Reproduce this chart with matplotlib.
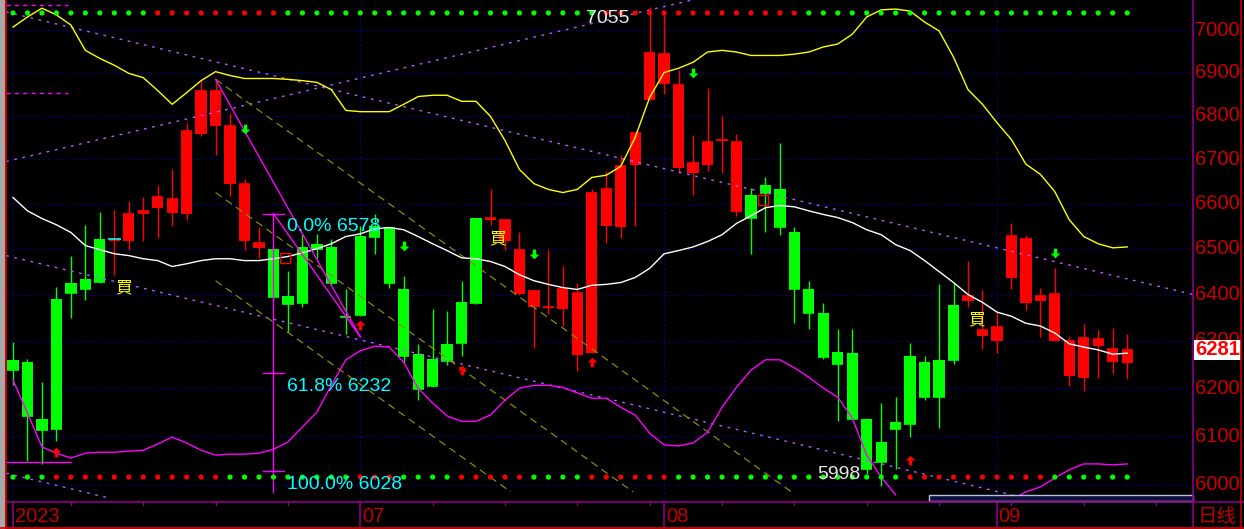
import numpy as np
import matplotlib.pyplot as plt
from matplotlib.path import Path
from matplotlib.patches import Rectangle
from matplotlib.lines import Line2D
from matplotlib.transforms import blended_transform_factory

plt.rcParams['font.family'] = ['Liberation Sans', 'DejaVu Sans']

# daily candles
opens = [6260, 6255, 6135, 6391, 6424, 6433, 6522, 6518, 6516, 6578,
         6591, 6580, 6576, 6757, 6775, 6645, 6516, 6502, 6500, 6396,
         6504, 6511, 6504, 6353, 6529, 6551, 6549, 6413, 6272, 6262,
         6294, 6383, 6569, 6564, 6518, 6402, 6372, 6370, 6368, 6270,
         6274, 6551, 6547, 6686, 6835, 6874, 6680, 6670, 6686, 6741,
         6582, 6620, 6641, 6632, 6536, 6411, 6360, 6277, 6274, 6135,
         6088, 6129, 6268, 6255, 6260, 6377, 6385, 6311, 6300, 6435,
         6381, 6387, 6300, 6226, 6221, 6289, 6255, 6253]
highs = [6298, 6262, 6213, 6417, 6485, 6553, 6582, 6587, 6607, 6614,
         6641, 6677, 6782, 6881, 6884, 6807, 6655, 6547, 6504, 6452,
         6533, 6533, 6522, 6413, 6551, 6578, 6549, 6441, 6294, 6368,
         6364, 6430, 6569, 6632, 6564, 6538, 6413, 6498, 6463, 6424,
         6632, 6673, 6709, 6759, 7055, 7040, 6905, 6755, 6865, 6798,
         6757, 6636, 6659, 6736, 6547, 6430, 6381, 6326, 6326, 6138,
         6169, 6181, 6296, 6268, 6422, 6426, 6472, 6409, 6364, 6558,
         6531, 6415, 6457, 6311, 6336, 6323, 6328, 6315]
lows = [6206, 6049, 6043, 6090, 6349, 6389, 6424, 6443, 6498, 6516,
        6524, 6551, 6564, 6752, 6709, 6618, 6498, 6480, 6387, 6319,
        6374, 6480, 6420, 6315, 6353, 6489, 6415, 6253, 6175, 6202,
        6249, 6268, 6379, 6553, 6498, 6398, 6285, 6357, 6332, 6236,
        6274, 6513, 6524, 6551, 6835, 6849, 6668, 6620, 6673, 6668,
        6573, 6489, 6536, 6531, 6338, 6326, 6262, 6131, 6133, 6022,
        5998, 6033, 6098, 6175, 6117, 6251, 6372, 6283, 6274, 6411,
        6366, 6309, 6300, 6204, 6194, 6221, 6230, 6219]
closes = [6238, 6142, 6112, 6115, 6404, 6413, 6428, 6520, 6578, 6584,
          6616, 6611, 6764, 6856, 6858, 6777, 6645, 6513, 6394, 6379,
          6381, 6500, 6424, 6351, 6355, 6527, 6424, 6268, 6198, 6204,
          6257, 6296, 6381, 6567, 6564, 6498, 6407, 6372, 6411, 6404,
          6623, 6632, 6684, 6759, 6945, 6943, 6870, 6691, 6739, 6743,
          6739, 6569, 6623, 6549, 6413, 6360, 6266, 6251, 6135, 6033,
          6047, 6115, 6125, 6181, 6181, 6260, 6396, 6323, 6330, 6529,
          6522, 6396, 6402, 6300, 6306, 6304, 6283, 6281]

# band lines
upper_band = [7007, 7031, 7052, 7036, 7012, 6952, 6933, 6917, 6898, 6888,
              6858, 6826, 6853, 6881, 6902, 6893, 6886, 6886, 6886, 6884,
              6881, 6877, 6860, 6812, 6809, 6809, 6809, 6826, 6844, 6847,
              6847, 6833, 6833, 6798, 6743, 6677, 6645, 6632, 6625, 6632,
              6659, 6664, 6684, 6750, 6842, 6900, 6910, 6924, 6948, 6952,
              6948, 6940, 6940, 6940, 6943, 6948, 6960, 6967, 6990, 7031,
              7048, 7050, 7045, 7019, 6998, 6936, 6860, 6826, 6784, 6745,
              6689, 6666, 6627, 6564, 6527, 6511, 6502, 6504]
mid_band = [6614, 6584, 6567, 6553, 6536, 6507, 6498, 6489, 6485, 6478,
            6474, 6461, 6467, 6474, 6478, 6478, 6474, 6474, 6478, 6483,
            6491, 6500, 6511, 6527, 6533, 6544, 6547, 6542, 6527, 6511,
            6496, 6480, 6478, 6472, 6461, 6443, 6430, 6422, 6415, 6411,
            6420, 6422, 6426, 6437, 6457, 6489, 6496, 6504, 6516, 6531,
            6556, 6573, 6591, 6596, 6593, 6584, 6576, 6569, 6558, 6542,
            6531, 6509, 6496, 6474, 6450, 6426, 6400, 6383, 6362, 6353,
            6338, 6332, 6317, 6294, 6287, 6281, 6272, 6274]
nan = float('nan')
lower_band = [6217, 6148, 6078, 6065, 6055, 6065, 6067, 6067, 6069, 6071,
              6084, 6098, 6086, 6071, 6061, 6063, 6063, 6065, 6073, 6088,
              6119, 6150, 6206, 6260, 6279, 6289, 6287, 6255, 6200, 6169,
              6142, 6131, 6131, 6144, 6175, 6200, 6206, 6206, 6202, 6190,
              6179, 6179, 6160, 6144, 6106, 6082, 6080, 6086, 6108, 6160,
              6202, 6238, 6260, 6260, 6243, 6223, 6200, 6181, 6138, 6061,
              6016, 5980, nan, nan, nan, nan, nan, nan, nan, 5970,
              5986, 5996, 6014, 6031, 6043, 6043, 6041, 6043]

# signal dots (g = green, r = red)
top_signal = 'g' * 10 + 'r' * 9 + 'g' * 22 + 'r' * 14 + 'g' * 23
bottom_signal = ('g' * 3 + 'r' * 12 + 'g' * 9 + 'r' * 3 + 'g' * 4 + 'r' * 5
                 + 'g' * 4 + 'r' * 6 + 'g' * 16 + 'r' * 10 + 'g' * 6)

up_arrow_idx = [3, 24, 31, 40, 62]
up_arrow_price = [6067, 6334, 6238, 6255, 6051]
down_arrow_idx = [16, 27, 36, 47, 72]
down_arrow_price = [6770, 6507, 6489, 6898, 6491]

buy_idx = [7.6, 33.5, 66.6]
buy_price = [6415, 6522, 6345]

month_labels = ['2023', '07', '08', '09']
month_starts = [0, 24, 45, 68]
price_ticks = list(range(6000, 7001, 100))
last_price = 6281

# drawn objects (index, price)
trend_a = ([-0.48, 81.55], [7043, 6400])
trend_b = ([-0.48, 81.55], [6695, 7360])
trend_c = ([-0.48, 81.55], [6485, 5893])
trend_d = ([-0.48, 10], [6024, 5950])
gann_lines = [([14, 53.8], [6884, 5986]),
              ([14, 42.85], [6625, 5986]),
              ([14, 34.4], [6430, 5986])]
fib_idx = 18
fib_levels = [6578, 6232, 6028]
fib_texts = ['0.0% 6578', '61.8% 6232', '100.0% 6028']
fib_bottom = 5986
fib_legs = [([14, 24], [6884, 6309]), ([18, 24], [6578, 6309])]
old_levels = [7060, 6853]
old_low = 6047

W, H = 1244, 529
RED, GREEN = '#ff0000', '#00ff00'

fig = plt.figure(figsize=(W / 100, H / 100), dpi=100, facecolor='black')


def fx(px):
    return px / W


def fy(py):
    return 1 - py / H


ax = fig.add_axes([fx(6), fy(498), fx(1193) - fx(6), 498 / H])
ax.set_yscale('log')
ax.set_xlim(-0.484, 81.55)
ax.set_ylim(5973.6, 7071.6)
ax.axis('off')
x = np.arange(len(closes))

# grid
for p in price_ticks:
    ax.axhline(p, color='#0000d0', lw=0.8, ls=(0, (1.2, 3)), zorder=0.5)
for m in month_starts:
    ax.axvline(m, color='#0000d0', lw=0.8, ls=(0, (1.2, 3)), zorder=0.5)

# candles
colors = [RED if c >= o else GREEN for o, c in zip(opens, closes)]
bottoms = np.minimum(opens, closes)
heights = np.abs(np.array(closes) - np.array(opens))
ax.vlines(x, lows, highs, colors=colors, lw=1, zorder=2)
ax.bar(x, heights, bottom=bottoms, width=0.78, color=colors, lw=0, zorder=2)
ax.hlines(closes, x - 0.39, x + 0.39, colors=colors, lw=1.2, zorder=2)
ax.hlines(closes[7] + 1, 6.57, 7.43, colors='#00ffff', lw=1.2, zorder=2.1)

# trend / channel lines
dot_purple = dict(color='#b45aff', lw=1, ls=(0, (2, 4)), zorder=3)
for tx, tp in [trend_a, trend_b, trend_c, trend_d]:
    ax.plot(tx, tp, **dot_purple)
for gx, gp in gann_lines:
    ax.plot(gx, gp, color='#8a8a00', lw=0.9, ls=(0, (6, 4)), zorder=3)
for lv in old_levels:
    ax.plot([-0.48, 3.8], [lv, lv], color='#ff00ff', lw=1, ls=(0, (3, 3)), zorder=3)
ax.plot([-0.48, 4.0], [old_low, old_low], color='#ff00ff', lw=1, zorder=3)

# bands
ax.plot(x, upper_band, color='#ffff00', lw=1, zorder=4)
ax.plot(x, mid_band, color='white', lw=1, zorder=4)
ax.plot(x, lower_band, color='#ff00ff', lw=1, zorder=4)

# fibonacci tool
ax.plot([fib_idx, fib_idx], [fib_levels[0], fib_bottom], color='#ff00ff', lw=1, zorder=4)
for lv in fib_levels:
    ax.plot([fib_idx - 0.7, fib_idx + 0.7], [lv, lv], color='#ff00ff', lw=1, zorder=4)
for lx, lp in fib_legs:
    ax.plot(lx, lp, color='#ff00ff', lw=1, zorder=4)
for lv, t in zip(fib_levels, fib_texts):
    ax.annotate(t, (fib_idx, lv), xytext=(10, -9.4), textcoords='offset points',
                ha='left', va='center', color='#00ffff', fontsize=14, zorder=7)

# signal dot rows
row = blended_transform_factory(ax.transData, ax.transAxes)
ax.scatter(x, [0.974] * len(x), s=14, transform=row, zorder=5,
           c=[GREEN if s == 'g' else RED for s in top_signal], lw=0)
ax.scatter(x, [0.042] * len(x), s=14, transform=row, zorder=5,
           c=[GREEN if s == 'g' else RED for s in bottom_signal], lw=0)

# arrows
down_path = Path([(-0.18, 0.5), (0.18, 0.5), (0.18, 0.0), (0.5, 0.0), (0, -0.5),
                  (-0.5, 0.0), (-0.18, 0.0), (-0.18, 0.5)],
                 [Path.MOVETO] + [Path.LINETO] * 6 + [Path.CLOSEPOLY])
up_path = Path(down_path.vertices * [1, -1], down_path.codes)
ax.plot(down_arrow_idx, down_arrow_price, ls='none', marker=down_path, ms=7,
        color=GREEN, mew=0, zorder=6)
ax.plot(up_arrow_idx, up_arrow_price, ls='none', marker=up_path, ms=7,
        color=RED, mew=0, zorder=6)

# small pattern boxes
ax.plot([18.8, 51.8], [6480, 6609], ls='none', marker='s', ms=7, mfc='none',
        mec=RED, mew=1, zorder=6)

for bi, bp in zip(buy_idx, buy_price):
    ax.text(bi, bp, '買', color='#ffff00', fontsize=12, ha='center', va='center',
            family=['Noto Sans CJK TC', 'DejaVu Sans'], zorder=7)

# extreme labels
hi_i = int(np.argmax(highs))
lo_i = int(np.argmin(lows))
ax.annotate(f'{highs[hi_i]}', (hi_i, highs[hi_i]), xytext=(-14.5, -8.6),
            textcoords='offset points', ha='right', va='center',
            color='#e6e6e6', fontsize=14, zorder=7)
ax.annotate(f'{lows[lo_i]}', (lo_i, lows[lo_i]), xytext=(-15, 8),
            textcoords='offset points', ha='right', va='center',
            color='#e6e6e6', fontsize=14, zorder=7)

# right price axis
rt = blended_transform_factory(ax.transAxes, ax.transData)
for p in price_ticks:
    ax.text(1.0017, p, str(p), transform=rt, color='#cc0000', fontsize=14.5,
            ha='left', va='center', clip_on=False, zorder=7)
ax.text(1.0017, last_price, str(last_price), transform=rt, color='#ff0000',
        fontsize=14.5, fontweight='bold', ha='left', va='center', clip_on=False,
        zorder=8, bbox=dict(facecolor='white', edgecolor='none', pad=0.6))

# date strip
dax = fig.add_axes([fx(6), fy(527), fx(1193) - fx(6), 25 / H])
dax.set_xlim(ax.get_xlim())
dax.set_ylim(0, 1)
dax.axis('off')
for m, lab in zip(month_starts, month_labels):
    dax.plot([m, m], [0, 1], color='#8b008b', lw=1.2)
    dax.text(m + 0.12, 0.4, lab, color='#c00000', fontsize=14.5, ha='left', va='center')
for t in range(4, 81, 5):
    dax.plot([t, t], [0.88, 1], color='#8b008b', lw=1)

fig.text(fx(1198), fy(517), '日线', color='#c00000', fontsize=14,
         family=['Noto Sans CJK SC', 'DejaVu Sans'], ha='left', va='center')

# frame lines
frame = [([fx(6), 1], [fy(502), fy(502)], '#8b008b'),
         ([0, 1], [fy(527.5), fy(527.5)], '#e00000'),
         ([fx(1193), fx(1193)], [fy(0), fy(527)], '#8b008b'),
         ([fx(5.5), fx(5.5)], [fy(0), fy(528)], '#e00000'),
         ([fx(1241), fx(1241)], [fy(0), fy(527)], '#c00000')]
for fxs, fys, col in frame:
    fig.add_artist(Line2D(fxs, fys, color=col, lw=1.2, transform=fig.transFigure))
fig.add_artist(Rectangle((0, 0), fx(4), 1, color='#a8a8a8', transform=fig.transFigure))
fig.add_artist(Rectangle((fx(929), fy(501)), fx(1193) - fx(929), 6 / H,
                         facecolor='#10103a', edgecolor='#b0c4de', lw=1,
                         transform=fig.transFigure))

fig.savefig('out.png', dpi=100, facecolor='black')
